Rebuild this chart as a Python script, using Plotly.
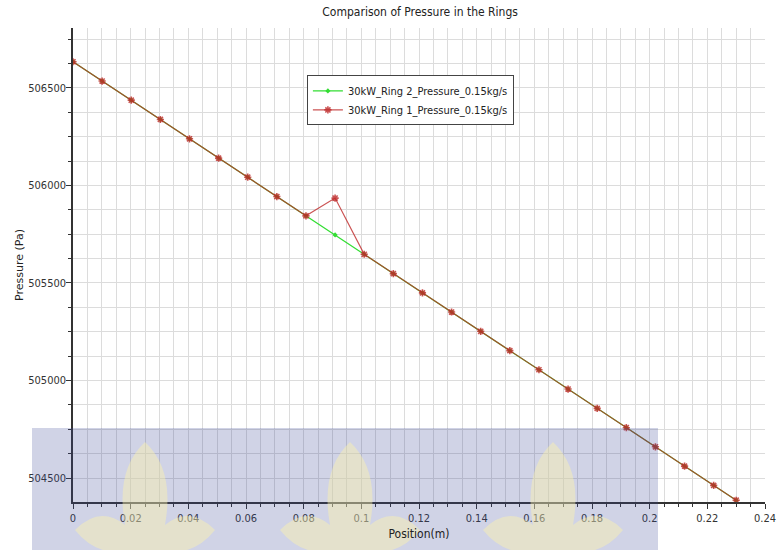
import plotly.graph_objects as go

# Data
position = [0.0, 0.0101, 0.0202, 0.0303, 0.0404, 0.0505, 0.0606, 0.0707, 0.0808, 0.0909,
            0.1010, 0.1111, 0.1212, 0.1313, 0.1414, 0.1515, 0.1616, 0.1717, 0.1818, 0.1919,
            0.2020, 0.2121, 0.2222, 0.2300]
ring2_pressure = [506634, 506535, 506437, 506338, 506239, 506140, 506042, 505943, 505844, 505746,
                  505647, 505548, 505449, 505351, 505252, 505153, 505055, 504956, 504857, 504758,
                  504660, 504561, 504462, 504386]
ring1_pressure = [506634, 506535, 506437, 506338, 506239, 506140, 506042, 505943, 505844, 505935,
                  505647, 505548, 505449, 505351, 505252, 505153, 505055, 504956, 504857, 504758,
                  504660, 504561, 504462, 504386]
series_names = ["30kW_Ring 2_Pressure_0.15kg/s", "30kW_Ring 1_Pressure_0.15kg/s"]
x_ticks = [0, 0.02, 0.04, 0.06, 0.08, 0.1, 0.12, 0.14, 0.16, 0.18, 0.2, 0.22, 0.24]
x_ticklabels = ["0", "0.02", "0.04", "0.06", "0.08", "0.1", "0.12", "0.14", "0.16", "0.18", "0.2", "0.22", "0.24"]
y_ticks = [504500, 505000, 505500, 506000, 506500]
y_ticklabels = ["504500", "505000", "505500", "506000", "506500"]

FONT = "DejaVu Sans Condensed, DejaVu Sans, sans-serif"

fig = go.Figure()
fig.add_trace(go.Scatter(
    x=position, y=ring2_pressure, name=series_names[0], mode="lines+markers",
    line=dict(color="#33dd33", width=1.2),
    marker=dict(symbol="diamond", size=4, color="#33dd33"),
))
fig.add_trace(go.Scatter(
    x=position, y=ring1_pressure, name=series_names[1], mode="lines+markers",
    line=dict(color="rgba(190,40,40,0.8)", width=1.2),
    marker=dict(symbol="asterisk-open", size=6, line=dict(color="#d02020", width=1.6)),
))

grid = "#dcdcdc"
tickfont = dict(family=FONT, size=11, color="#333")
fig.update_layout(
    width=778, height=550,
    margin=dict(l=73, r=13, t=28, b=48, autoexpand=False),
    paper_bgcolor="white", plot_bgcolor="white",
    font=dict(family=FONT, size=12, color="#333"),
    title=dict(text="Comparison of Pressure in the Rings", x=0.54, xanchor="center",
               y=0.978, yanchor="middle", font=dict(family=FONT, size=12, color="#222")),
    legend=dict(x=0.338, y=0.90, xanchor="left", yanchor="top",
                bgcolor="white", bordercolor="#444", borderwidth=1,
                font=dict(family=FONT, size=11, color="#222"),
                tracegroupgap=0, itemwidth=30),
    xaxis=dict(
        range=[0, 0.24], tickvals=x_ticks, ticktext=x_ticklabels, automargin=False,
        showline=True, linecolor="#333", linewidth=1.5, tickfont=tickfont,
        ticks="outside", ticklen=5, tickcolor="#333",
        showgrid=True, gridcolor=grid, zeroline=False,
        minor=dict(dtick=0.005, tick0=0, ticks="outside", ticklen=3, tickcolor="#333",
                   showgrid=True, gridcolor=grid),
        title=dict(text="Position(m)", font=dict(family=FONT, size=12, color="#222"), standoff=6),
    ),
    yaxis=dict(
        range=[504377, 506807], tickvals=y_ticks, ticktext=y_ticklabels, automargin=False,
        showline=True, linecolor="#333", linewidth=1.5, tickfont=tickfont,
        ticks="outside", ticklen=5, tickcolor="#333", ticklabelstandoff=-2,
        showgrid=True, gridcolor=grid, zeroline=False,
        minor=dict(dtick=125, tick0=504500, ticks="outside", ticklen=3, tickcolor="#333",
                   showgrid=True, gridcolor=grid),
    ),
)

def px(xp):
    return (xp - 73) / 692

def py(yp):
    return (502 - yp) / 474

# y axis title placed like the reference
fig.add_annotation(text="Pressure (Pa)", xref="paper", yref="paper", x=px(19), y=py(265),
                   xanchor="center", yanchor="middle", textangle=-90, showarrow=False,
                   font=dict(family="DejaVu Sans, sans-serif", size=11, color="#222"))

# Watermark-like overlay band seen at the bottom of the reference image
fig.add_shape(type="rect", xref="paper", yref="paper",
              x0=px(32), x1=px(658), y0=py(552), y1=py(428),
              fillcolor="rgba(60,70,150,0.24)", line=dict(width=0), layer="above")

def flame(cx):
    d = "M {} {} ".format(px(cx), py(442))
    d += "Q {} {} {} {} ".format(px(cx + 30), py(470), px(cx + 20), py(525))
    d += "Q {} {} {} {} ".format(px(cx + 45), py(505), px(cx + 70), py(530))
    d += "Q {} {} {} {} ".format(px(cx + 50), py(555), px(cx + 20), py(552))
    d += "L {} {} ".format(px(cx - 20), py(552))
    d += "Q {} {} {} {} ".format(px(cx - 50), py(555), px(cx - 70), py(530))
    d += "Q {} {} {} {} ".format(px(cx - 45), py(505), px(cx - 20), py(525))
    d += "Q {} {} {} {} Z".format(px(cx - 30), py(470), px(cx), py(442))
    return d

for cx in [145, 350, 553]:
    fig.add_shape(type="path", xref="paper", yref="paper", path=flame(cx),
                  fillcolor="rgba(255,245,170,0.42)", line=dict(width=0), layer="above")

fig.write_html("out.html")
